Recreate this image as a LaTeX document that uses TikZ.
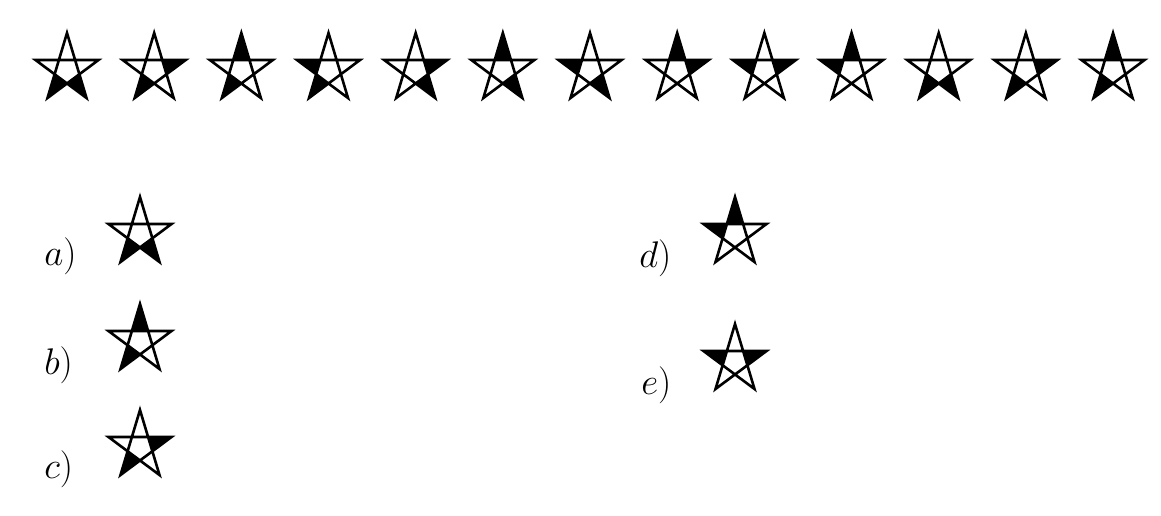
\documentclass[tikz,border=0pt]{standalone}
\tikzset{
  starline/.style={line width=2.6pt, line join=miter, miter limit=10},
  tipfill/.style={fill=black},
  lbl/.style={anchor=base west, inner sep=0pt, font=\Huge, scale=1.49}
}
\newcommand\mystar[3]{%
 \begin{scope}[shift={(#1,#2)}]
  \coordinate (T) at (0,-37);
  \coordinate (R) at (31.5,-10);
  \coordinate (BR) at (19.5,28);
  \coordinate (BL) at (-19.5,28);
  \coordinate (L) at (-31.5,-10);
  \coordinate (iTL) at (intersection of T--BL and L--R);
  \coordinate (iTR) at (intersection of T--BR and L--R);
  \coordinate (iRB) at (intersection of R--BL and T--BR);
  \coordinate (iB) at (intersection of R--BL and L--BR);
  \coordinate (iLB) at (intersection of L--BR and T--BL);
  \coordinate (Ta) at (iTL); \coordinate (Tb) at (iTR);
  \coordinate (Ra) at (iTR); \coordinate (Rb) at (iRB);
  \coordinate (BRa) at (iRB); \coordinate (BRb) at (iB);
  \coordinate (BLa) at (iB); \coordinate (BLb) at (iLB);
  \coordinate (La) at (iLB); \coordinate (Lb) at (iTL);
  \foreach \t in {#3} {\fill[tipfill] (\t) -- (\t a) -- (\t b) -- cycle;}
  \draw[starline] (T) -- (BL) -- (R) -- (L) -- (BR) -- cycle;
 \end{scope}}
\begin{document}
\begin{tikzpicture}[x=1pt,y=-1pt]
\fill[white] (0,0) rectangle (1161,516);
\useasboundingbox (0,0) rectangle (1161,516);
% top row
\mystar{67}{70}{BL,BR}
\mystar{154.17}{70}{BL,R}
\mystar{241.34}{70}{T,BL}
\mystar{328.51}{70}{L,BL}
\mystar{415.68}{70}{R,BR}
\mystar{502.85}{70}{T,BR}
\mystar{590.02}{70}{L,BR}
\mystar{677.19}{70}{T,R}
\mystar{764.36}{70}{L,R}
\mystar{851.53}{70}{T,L}
\mystar{938.70}{70}{BL,BR}
\mystar{1025.87}{70}{BL,R}
\mystar{1113.04}{70}{T,BL}
% options
\node[lbl] (la) at (44,265) {$a)$};
\mystar{140}{234}{BL,BR}
\node[lbl] (lb) at (44,374) {$b)$};
\mystar{140}{341}{T,BL}
\node[lbl] (lc) at (44,478) {$c)$};
\mystar{140}{447}{BL,R}
\node[lbl] (ld) at (639,267) {$d)$};
\mystar{735}{234}{T,L}
\node[lbl] (le) at (641,394) {$e)$};
\mystar{735}{361}{L,R}
\end{tikzpicture}
\end{document}
